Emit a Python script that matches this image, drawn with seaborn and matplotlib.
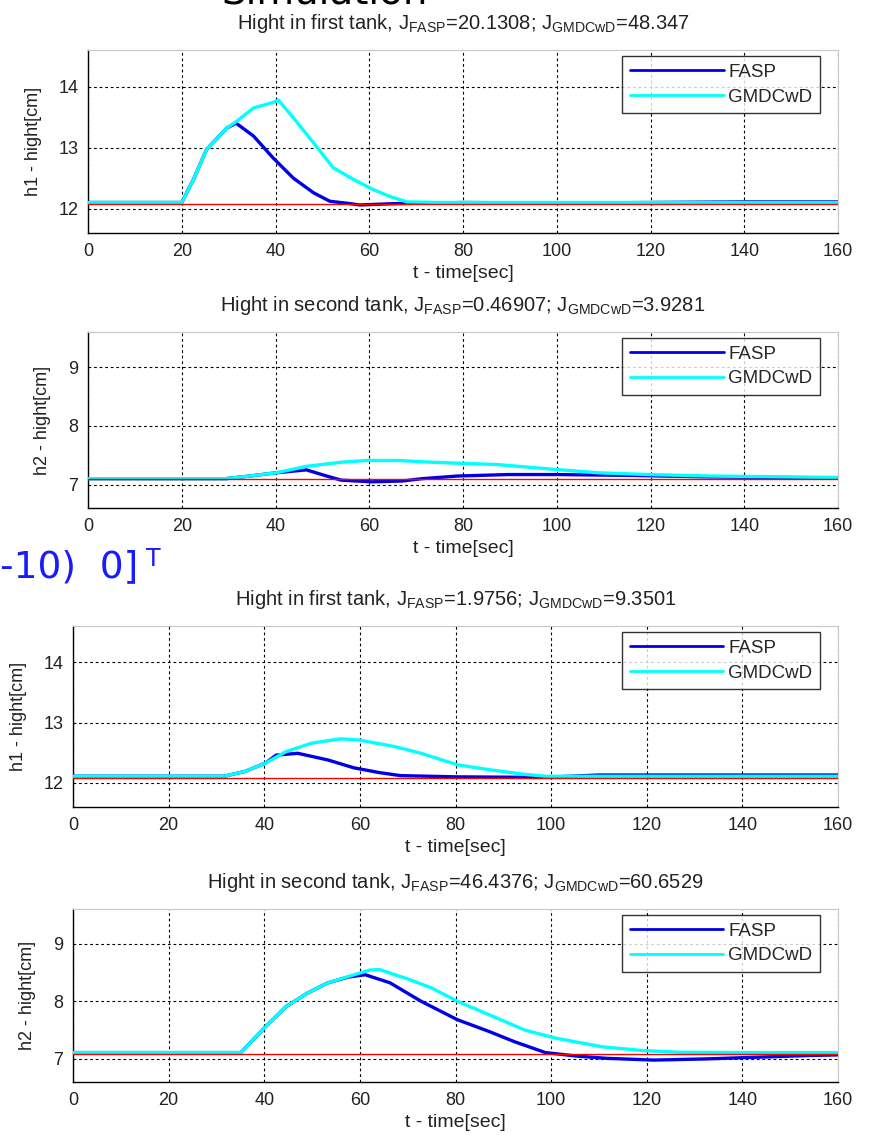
import matplotlib
matplotlib.use("Agg")
import matplotlib.pyplot as plt
import seaborn as sns
import pandas as pd

# ---------------- data ----------------
x_ticks = [0, 20, 40, 60, 80, 100, 120, 140, 160]

# panel 1 : height in first tank (case 1)
p1_fasp_t = [0, 20, 22.5, 25.3, 29.6, 31.6, 35.3, 39.5, 43.8, 48.1, 51.6, 55, 58, 65, 80, 100, 120, 140, 160]
p1_fasp_v = [12.1, 12.1, 12.48, 12.97, 13.32, 13.40, 13.19, 12.83, 12.50, 12.26, 12.12, 12.09, 12.06, 12.08, 12.1, 12.09, 12.1, 12.11, 12.11]
p1_gmd_t = [0, 20, 22.5, 25.3, 29.6, 31.7, 35.3, 39.5, 40.6, 43.8, 48.1, 52.3, 56.6, 60.9, 64.4, 68, 75, 100, 130, 160]
p1_gmd_v = [12.1, 12.1, 12.48, 12.97, 13.32, 13.43, 13.65, 13.74, 13.78, 13.49, 13.08, 12.67, 12.48, 12.31, 12.20, 12.11, 12.1, 12.1, 12.1, 12.1]
p1_ref = 12.08

# panel 2 : height in second tank (case 1)
p2_fasp_t = [0, 29.4, 35, 40.1, 46.6, 50.9, 54, 60.5, 67, 71.3, 78.8, 89.6, 100.3, 116.5, 132.6, 148.7, 160]
p2_fasp_v = [7.1, 7.1, 7.15, 7.2, 7.25, 7.145, 7.075, 7.046, 7.06, 7.1, 7.145, 7.17, 7.17, 7.155, 7.13, 7.12, 7.11]
p2_gmd_t = [0, 29.4, 35, 40.1, 46.6, 54, 59.5, 66, 73.4, 87.4, 99.2, 108.9, 119.6, 132.6, 148.7, 160]
p2_gmd_v = [7.1, 7.1, 7.15, 7.2, 7.31, 7.38, 7.41, 7.41, 7.38, 7.34, 7.26, 7.2, 7.17, 7.145, 7.13, 7.12]
p2_ref = 7.09

# panel 3 : height in first tank (case 2)
p3_fasp_t = [0, 31.6, 36, 40.3, 42.5, 47, 53.3, 58.7, 64.1, 68.5, 80, 98, 110, 130, 160]
p3_fasp_v = [12.11, 12.11, 12.19, 12.33, 12.46, 12.49, 12.38, 12.25, 12.17, 12.12, 12.1, 12.09, 12.13, 12.13, 12.13]
p3_gmd_t = [0, 31.6, 36, 40.3, 44.6, 50, 56, 59.8, 67.4, 72.8, 80.4, 86.9, 94.5, 98.8, 110, 130, 160]
p3_gmd_v = [12.11, 12.11, 12.19, 12.33, 12.52, 12.66, 12.73, 12.71, 12.6, 12.49, 12.30, 12.22, 12.14, 12.11, 12.11, 12.11, 12.11]
p3_ref = 12.08

# panel 4 : height in second tank (case 2)
p4_fasp_t = [0, 35.1, 40.3, 44.6, 49, 53.3, 57.6, 61.1, 66.3, 72.8, 80.4, 86.9, 92.3, 98.8, 105.3, 111.7, 121.5, 132.3, 143.2, 154, 160]
p4_fasp_v = [7.11, 7.11, 7.56, 7.91, 8.14, 8.32, 8.42, 8.46, 8.32, 8.0, 7.68, 7.48, 7.30, 7.11, 7.05, 7.01, 6.98, 7.0, 7.03, 7.06, 7.07]
p4_gmd_t = [0, 35.1, 40.3, 44.6, 49, 53.3, 57.6, 62, 64.1, 70.6, 75, 80.4, 86.9, 94.5, 101, 110.7, 119.3, 126.9, 140, 160]
p4_gmd_v = [7.11, 7.11, 7.56, 7.91, 8.14, 8.32, 8.43, 8.54, 8.55, 8.37, 8.23, 8.0, 7.77, 7.5, 7.36, 7.21, 7.145, 7.116, 7.11, 7.11]
p4_ref = 7.087

titles = [
    r"Hight in first tank, J$_{FASP}$=20.1308; J$_{GMDCwD}$=48.347",
    r"Hight in second tank, J$_{FASP}$=0.46907; J$_{GMDCwD}$=3.9281",
    r"Hight in first tank, J$_{FASP}$=1.9756; J$_{GMDCwD}$=9.3501",
    r"Hight in second tank, J$_{FASP}$=46.4376; J$_{GMDCwD}$=60.6529",
]
ylabels = ["h1 - hight[cm]", "h2 - hight[cm]", "h1 - hight[cm]", "h2 - hight[cm]"]
y_ticks = [[12, 13, 14], [7, 8, 9], [12, 13, 14], [7, 8, 9]]
y_lims = [(11.6, 14.6), (6.6, 9.6), (11.6, 14.6), (6.6, 9.6)]
x_label = "t - time[sec]"
series_names = ["FASP", "GMDCwD"]

# ---------------- style ----------------
sns.set_style("white")
plt.rcParams["font.family"] = ["Liberation Sans", "DejaVu Sans"]
plt.rcParams["mathtext.default"] = "regular"

W, H = 872, 1135
fig = plt.figure(figsize=(W / 100, H / 100), dpi=100)
fig.patch.set_facecolor("white")

# axes boxes in pixels: left, right, top, bottom
boxes = [(88, 838, 50, 233), (88, 838, 332, 508), (73, 838, 626, 807), (73, 838, 909, 1082)]

panels = [
    (p1_fasp_t, p1_fasp_v, p1_gmd_t, p1_gmd_v, p1_ref),
    (p2_fasp_t, p2_fasp_v, p2_gmd_t, p2_gmd_v, p2_ref),
    (p3_fasp_t, p3_fasp_v, p3_gmd_t, p3_gmd_v, p3_ref),
    (p4_fasp_t, p4_fasp_v, p4_gmd_t, p4_gmd_v, p4_ref),
]

for i, ((ft, fv, gt, gv, ref), (l, r, t, b)) in enumerate(zip(panels, boxes)):
    ax = fig.add_axes([l / W, 1 - b / H, (r - l) / W, (b - t) / H])
    df_ref = pd.DataFrame({"t": [0, 160], "v": [ref, ref]})
    df_f = pd.DataFrame({"t": ft, "v": fv})
    df_g = pd.DataFrame({"t": gt, "v": gv})
    sns.lineplot(data=df_g, x="t", y="v", ax=ax, color="#00ffff", lw=2.4,
                 label=series_names[1], zorder=3)
    sns.lineplot(data=df_f, x="t", y="v", ax=ax, color="#0000e6", lw=2.4,
                 label=series_names[0], zorder=2)
    sns.lineplot(data=df_ref, x="t", y="v", ax=ax, color="#ff0000", lw=1.0,
                 zorder=4, legend=False)
    ax.set_xlim(0, 160)
    ax.set_ylim(*y_lims[i])
    ax.set_xticks(x_ticks)
    ax.set_yticks(y_ticks[i])
    ax.grid(True, color="black", linestyle=(0, (2.5, 2.5)), linewidth=0.8)
    ax.tick_params(direction="in", length=4, width=0.8, colors="#222222",
                   labelsize=13, pad=7)
    for s in ["left", "bottom"]:
        ax.spines[s].set_color("black")
        ax.spines[s].set_linewidth(1.0)
    for s in ["top", "right"]:
        ax.spines[s].set_color("#c8c8c8")
        ax.spines[s].set_linewidth(0.8)
    ax.set_xlabel(x_label, fontsize=14, labelpad=4, color="#222222")
    ax.set_ylabel(ylabels[i], fontsize=13, labelpad=12, color="#222222")
    ax.set_title(titles[i], fontsize=14.5, pad=15, color="#222222")
    h, lab = ax.get_legend_handles_labels()
    order = [lab.index("FASP"), lab.index("GMDCwD")]
    leg = ax.legend([h[k] for k in order], [lab[k] for k in order],
                    loc="upper right", bbox_to_anchor=(0.976, 0.965),
                    frameon=True, fancybox=False, shadow=False,
                    fontsize=13.5, handlelength=5.0, handletextpad=0.25,
                    borderpad=0.4, labelspacing=0.4, borderaxespad=0)
    leg.get_frame().set_edgecolor("black")
    leg.get_frame().set_linewidth(1.0)
    for lh in leg.get_lines():
        lh.set_linewidth(2.0)

# slide fragments (heading is cut off at the top edge, as in the source)
fig.text(325 / W, 1 - 3 / H, "Simulation", fontsize=28, color="black",
         ha="center", va="baseline", family=["DejaVu Sans"])
fig.text(0 / W, 1 - 577 / H, "-10)  0]", fontsize=27, color="#1a1aff",
         ha="left", va="baseline", family=["DejaVu Sans"])
fig.text(146 / W, 1 - 566 / H, "T", fontsize=17, color="#1a1aff",
         ha="left", va="baseline", family=["DejaVu Sans"])

fig.savefig("out.png", dpi=100, facecolor="white")
